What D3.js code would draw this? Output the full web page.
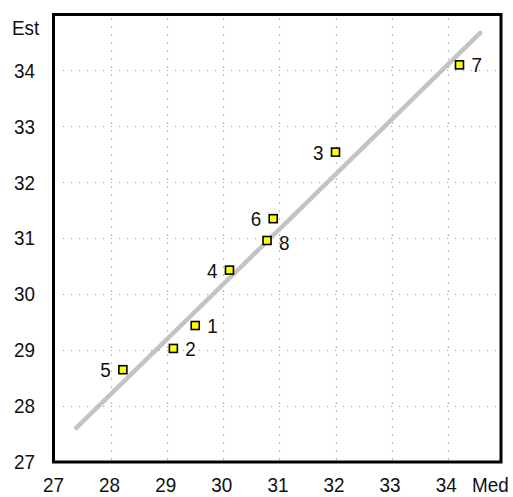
<!DOCTYPE html>
<html>
<head>
<meta charset="utf-8">
<script src="https://cdn.jsdelivr.net/npm/d3@7/dist/d3.min.js"></script>
<style>
  html, body { margin: 0; padding: 0; background: #fff; }
  svg { display: block; }
  text { font-family: "Liberation Sans", Arial, sans-serif; fill: #111; }
</style>
</head>
<body>
<svg id="chart" width="513" height="497"></svg>
<script>
// Measured (Med) vs estimated (Est) values for eight samples
const sampleIds = ["1", "2", "3", "4", "5", "6", "7", "8"];
const medValues = [29.50, 29.11, 32.00, 30.11, 28.21, 30.89, 34.21, 30.78];
const estValues = [29.44, 29.03, 32.54, 30.43, 28.65, 31.35, 34.10, 30.96];
// which side of the marker each sample label sits on
const labelSide = ["right", "right", "left", "left", "left", "left", "right", "right"];

// fitted line end points (Med, Est)
const fitMed = [27.38, 34.58];
const fitEst = [27.61, 34.67];

const xTicks = [27, 28, 29, 30, 31, 32, 33, 34];
const yTicks = [27, 28, 29, 30, 31, 32, 33, 34];
const gridTicks = [28, 29, 30, 31, 32, 33, 34];

const svg = d3.select("#chart");
const plotLeft = 55, plotRight = 501, plotTop = 14.5, plotBottom = 462;
const fontSize = 21;
const squeeze = 0.9; // narrow, tall lettering

const x = d3.scaleLinear().domain([27, 34.95]).range([plotLeft, plotRight]);
const y = d3.scaleLinear().domain([27, 35]).range([plotBottom, plotTop]);

// dotted grid
const grid = svg.append("g")
  .attr("stroke", "#9a9a9a")
  .attr("stroke-width", 1.2)
  .attr("stroke-dasharray", "1.2,6.8");
grid.selectAll("line.v").data(gridTicks).join("line")
  .attr("class", "v")
  .attr("x1", d => Math.round(x(d)) + 0.5).attr("x2", d => Math.round(x(d)) + 0.5)
  .attr("y1", plotTop + 4).attr("y2", plotBottom);
grid.selectAll("line.h").data(gridTicks).join("line")
  .attr("class", "h")
  .attr("y1", d => Math.round(y(d)) + 0.5).attr("y2", d => Math.round(y(d)) + 0.5)
  .attr("x1", plotLeft + 8).attr("x2", plotRight);

// fitted line
svg.append("line")
  .attr("x1", x(fitMed[0])).attr("y1", y(fitEst[0]))
  .attr("x2", x(fitMed[1])).attr("y2", y(fitEst[1]))
  .attr("stroke", "#c3c3c3")
  .attr("stroke-width", 4.5)
  .attr("stroke-linecap", "round");

// frame
svg.append("rect")
  .attr("x", plotLeft - 1.5).attr("y", plotTop)
  .attr("width", plotRight - plotLeft + 1.5).attr("height", plotBottom - plotTop)
  .attr("fill", "none")
  .attr("stroke", "#000")
  .attr("stroke-width", 3);

// sample markers
const pts = medValues.map((m, i) => ({ id: sampleIds[i], med: m, est: estValues[i], side: labelSide[i] }));
svg.append("g").selectAll("rect").data(pts).join("rect")
  .attr("x", d => x(d.med) - 4)
  .attr("y", d => y(d.est) - 4)
  .attr("width", 8).attr("height", 8)
  .attr("fill", "#ffff00")
  .attr("stroke", "#000")
  .attr("stroke-width", 1.6);

// sample labels
svg.append("g").selectAll("text").data(pts).join("text")
  .attr("transform", d => {
    const tx = x(d.med) + (d.side === "right" ? 12 : -12);
    const ty = y(d.est) + (d.id === "8" ? 2 : 0);
    return `translate(${tx},${ty}) scale(${squeeze},1)`;
  })
  .attr("dy", "0.36em")
  .attr("text-anchor", d => d.side === "right" ? "start" : "end")
  .attr("font-size", fontSize)
  .text(d => d.id);

// axes (labels only)
const xAxis = svg.append("g")
  .attr("transform", `translate(-2,${plotBottom})`)
  .call(d3.axisBottom(x).tickValues(xTicks).tickSize(0).tickPadding(15).tickFormat(d3.format("d")));
const yAxis = svg.append("g")
  .attr("transform", `translate(${plotLeft},0)`)
  .call(d3.axisLeft(y).tickValues(yTicks).tickSize(0).tickPadding(22.2).tickFormat(d3.format("d")));
[xAxis, yAxis].forEach(a => {
  a.select(".domain").remove();
  a.selectAll("text")
    .attr("font-size", fontSize)
    .attr("fill", "#111")
    .attr("transform", `scale(${squeeze},1)`)
    .style("font-family", '"Liberation Sans", Arial, sans-serif');
});

// axis titles
svg.append("text").attr("transform", `translate(12,35) scale(${squeeze},1)`).attr("font-size", fontSize).text("Est");
svg.append("text").attr("transform", `translate(472,492) scale(${squeeze},1)`).attr("font-size", fontSize).text("Med");
</script>
</body>
</html>
